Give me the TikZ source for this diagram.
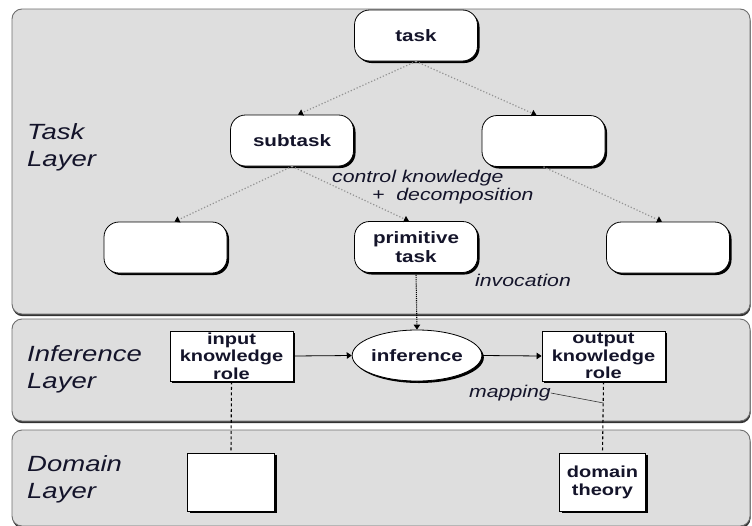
\documentclass[tikz,border=0pt]{standalone}
\usepackage{fontspec}
\newfontfamily\wsans[FakeStretch=1.25]{Liberation Sans}
\usetikzlibrary{shapes.geometric,shadows,arrows.meta}
\definecolor{ink}{HTML}{14142A}
\definecolor{panelfill}{HTML}{DEDEDE}
\definecolor{panelline}{HTML}{6E6E6E}
\tikzset{
  panel/.style={draw=panelline, fill=panelfill, line width=0.9pt, rounded corners=10pt,
    drop shadow={shadow xshift=0.6pt, shadow yshift=-2.2pt, fill=black!80, opacity=1}},
  bshadow/.style={drop shadow={shadow xshift=2pt, shadow yshift=-2pt, fill=black, opacity=1}},
  taskbox/.style={draw=black, fill=white, line width=0.8pt, rounded corners=15pt,
    minimum width=123pt, minimum height=51pt, inner sep=0pt, align=center, bshadow,
    font=\wsans\bfseries\fontsize{16.5}{19}\selectfont, text=ink},
  rolebox/.style={draw=black, fill=white, line width=0.8pt,
    minimum width=123pt, minimum height=50pt, inner sep=0pt, align=center, bshadow,
    font=\wsans\bfseries\fontsize{16}{17.5}\selectfont, text=ink},
  infell/.style={ellipse, draw=black, fill=white, line width=0.8pt,
    minimum width=122pt, minimum height=51pt, inner sep=0pt, bshadow,
    font=\wsans\bfseries\fontsize{16.5}{19}\selectfont, text=ink},
  dombox/.style={draw=black, fill=white, line width=0.8pt,
    minimum width=87pt, minimum height=58pt, inner sep=0pt, align=center, bshadow,
    font=\wsans\bfseries\fontsize{16}{18}\selectfont, text=ink},
  layerlabel/.style={inner sep=0pt, align=left, anchor=west, text=ink,
    font=\wsans\itshape\fontsize{22}{27}\selectfont},
  edgelabel/.style={inner sep=0pt, anchor=west, text=ink,
    font=\wsans\itshape\fontsize{17}{20}\selectfont},
  tip/.style={-{Triangle[width=6.5pt,length=5pt,color=black]}},
  treeedge/.style={tip, dotted, draw=gray!85, line width=1.2pt},
  invedge/.style={tip, densely dotted, draw=black, line width=1.1pt},
  flow/.style={tip, draw=black, line width=0.8pt},
  mapedge/.style={dash pattern=on 3pt off 2.5pt, draw=black, line width=1.1pt},
}
\begin{document}
\begin{tikzpicture}[x=1pt,y=-1pt]
\useasboundingbox (0,0) rectangle (752,525);
\path[fill=white] (0,0) rectangle (752,525);

% panels
\path[panel] (12,9) rectangle (750,314);
\path[panel] (12,319) rectangle (750,421);
\path[panel] (12,430) rectangle (750,526);

% layer labels
\node[layerlabel] (tl) at (27,147) {Task\\Layer};
\node[layerlabel] (il) at (27,369) {Inference\\Layer};
\node[layerlabel] (dl) at (27,479) {Domain\\Layer};

% task layer nodes
\node[taskbox] (task) at (416,35.5) {task};
\node[taskbox] (sub) at (292,140.5) {subtask};
\node[taskbox] (r1) at (543.5,141) {};
\node[taskbox] (l2) at (165.5,247.5) {};
\node[taskbox] (prim) at (416,247) {primitive\\task};
\node[taskbox] (r2) at (668,247.5) {};

\draw[treeedge] (task.south) -- ([xshift=6pt]sub.north);
\draw[treeedge] (task.south) -- ([xshift=-7pt]r1.north);
\draw[treeedge] (sub.south) -- ([xshift=9pt]l2.north);
\draw[treeedge] (sub.south) -- ([xshift=-7pt]prim.north);
\draw[treeedge] (r1.south) -- ([xshift=-6pt]r2.north);

\node[edgelabel] (ck) at (332,178) {control knowledge};
\node[edgelabel] (dec) at (372,196) {+\ \ decomposition};
\node[edgelabel] (inv) at (475,280) {invocation};

% inference layer
\node[rolebox] (in) at (231.5,356) {input\\knowledge\\role};
\node[infell] (inf) at (417,355.5) {inference};
\node[rolebox] (out) at (603.5,356) {output\\knowledge\\role};

\draw[invedge] (prim.south) -- (inf.north);
\draw[flow] (in.east) -- (inf.west);
\draw[flow] (inf.east) -- (out.west);

% domain layer
\node[dombox] (d1) at (231,482) {};
\node[dombox, minimum width=86pt] (dt) at (602.5,482) {domain\\theory};

\draw[mapedge] (in.south) -- (d1.north);
\draw[mapedge] (out.south) -- (dt.north);

\node[edgelabel] (map) at (469,393) {mapping};
\coordinate (mp) at (603.5,403);
\draw[draw=black!80, line width=0.6pt] (map.east) -- (mp);
\end{tikzpicture}
\end{document}
